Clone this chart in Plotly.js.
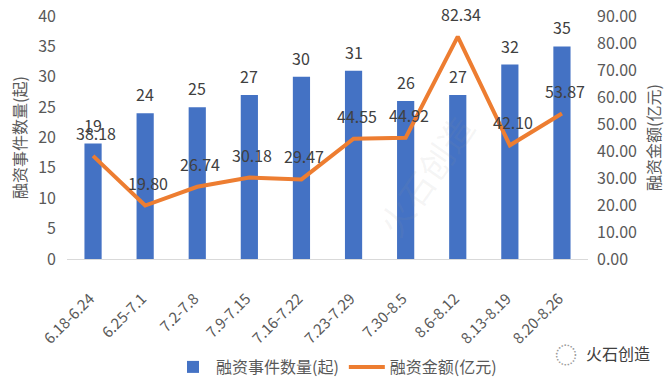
<!DOCTYPE html>
<html><head><meta charset="utf-8">
<script src="https://cdn.plot.ly/plotly-3.0.1.min.js"></script>
<style>html,body{margin:0;padding:0;background:#fff}#c{width:671px;height:381px}</style>
</head><body><div id="c"></div>
<script>
const categories = ["6.18-6.24","6.25-7.1","7.2-7.8","7.9-7.15","7.16-7.22","7.23-7.29","7.30-8.5","8.6-8.12","8.13-8.19","8.20-8.26"];
const eventCounts = [19,24,25,27,30,31,26,27,32,35];
const amounts = [38.18,19.80,26.74,30.18,29.47,44.55,44.92,82.34,42.10,53.87];
const leftTicks = [0,5,10,15,20,25,30,35,40];
const rightTicks = [0,10,20,30,40,50,60,70,80,90];

const font = "'Noto Sans CJK SC', 'Noto Sans', sans-serif";
const txt = '#595959';

const traces = [
  {type:'bar', x:categories, y:eventCounts, name:'融资事件数量(起)', marker:{color:'#4472C4'}, width:0.33, hoverinfo:'skip'},
  {type:'scatter', mode:'lines', x:categories, y:amounts, yaxis:'y2', name:'融资金额(亿元)', line:{color:'#ED7D31', width:4}, hoverinfo:'skip'}
];

const annotations = [];
categories.forEach((c,i)=>{
  annotations.push({x:c, y:eventCounts[i], xref:'x', yref:'y', text:String(eventCounts[i]), showarrow:false, yshift:19, font:{family:font,size:16,color:'#404040'}});
  annotations.push({x:c, y:amounts[i], xref:'x', yref:'y2', text:amounts[i].toFixed(2), showarrow:false, yshift:23, xshift:3, font:{family:font,size:16,color:'#404040'}});
});
// brand mark and faint watermark
annotations.push({xref:'paper', yref:'paper', x:(618-67)/521, y:(259-353)/243, xanchor:'center', yanchor:'middle', text:'火石创造', showarrow:false, font:{family:font,size:16,color:'#404040'}});
annotations.push({xref:'paper', yref:'paper', x:(566-67)/521, y:(259-353)/243, xanchor:'center', yanchor:'middle', text:'◌', showarrow:false, font:{family:font,size:22,color:'#9a9a9a'}});
annotations.push({xref:'paper', yref:'paper', x:(425-67)/521, y:(259-175)/243, xanchor:'center', yanchor:'middle', text:'火石创造', textangle:-55, showarrow:false, font:{family:font,size:34,color:'rgba(150,150,150,0.10)'}});

const layout = {
  width:671, height:381,
  margin:{l:67, r:83, t:16, b:122},
  paper_bgcolor:'#fff', plot_bgcolor:'#fff',
  showlegend:true,
  legend:{orientation:'h', x:(336-67)/521, xanchor:'center', yref:'container', y:1-367/381, yanchor:'middle', font:{family:font,size:16,color:txt}, itemwidth:36, traceorder:'normal'},
  xaxis:{type:'category', automargin:false, tickangle:-45, tickfont:{family:font,size:15,color:txt}, showline:true, linecolor:'#D9D9D9', linewidth:1, ticks:'', showgrid:false, zeroline:false, ticklabelstandoff:24, ticklabelshift:-3},
  yaxis:{automargin:false, range:[0,40], tickvals:leftTicks, ticktext:leftTicks.map(String), tickfont:{family:font,size:16,color:txt}, showgrid:false, zeroline:false, showline:false, ticklabelstandoff:10,
    title:{text:'融资事件数量(起)', font:{family:font,size:16,color:txt}, standoff:7}},
  yaxis2:{automargin:false, range:[0,90], overlaying:'y', side:'right', tickvals:rightTicks, ticktext:rightTicks.map(v=>v.toFixed(2)), tickfont:{family:font,size:16,color:txt}, showgrid:false, zeroline:false, showline:false, ticklabelstandoff:8,
    title:{text:'融资金额(亿元)', font:{family:font,size:16,color:txt}, standoff:12}},
  annotations:annotations
};
Plotly.newPlot('c', traces, layout, {displayModeBar:false, staticPlot:true});
</script></body></html>
